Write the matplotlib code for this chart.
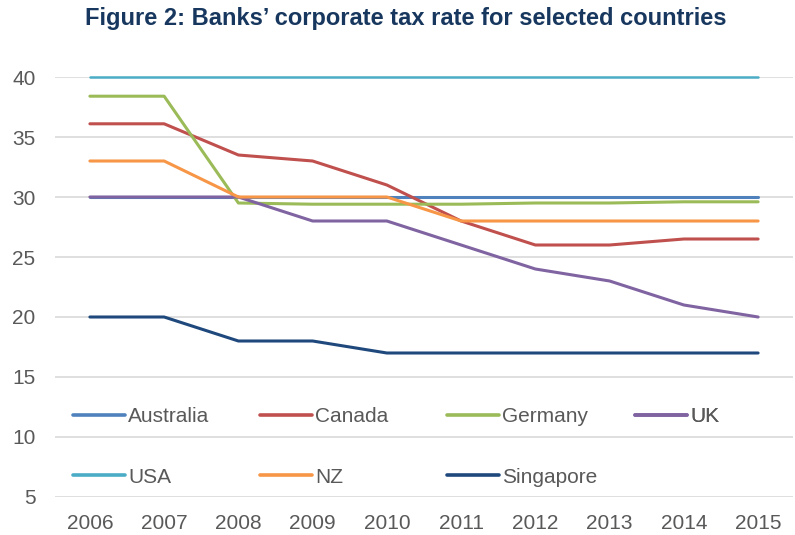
import matplotlib
matplotlib.use("Agg")
import matplotlib.pyplot as plt
import numpy as np

years = ["2006", "2007", "2008", "2009", "2010", "2011", "2012", "2013", "2014", "2015"]
countries = ["Australia", "Canada", "Germany", "UK", "USA", "NZ", "Singapore"]

australia = [30, 30, 30, 30, 30, 30, 30, 30, 30, 30]
canada = [36.1, 36.1, 33.5, 33.0, 31.0, 28.0, 26.0, 26.0, 26.5, 26.5]
germany = [38.4, 38.4, 29.5, 29.4, 29.4, 29.4, 29.5, 29.5, 29.6, 29.6]
uk = [30, 30, 30, 28, 28, 26, 24, 23, 21, 20]
usa = [40, 40, 40, 40, 40, 40, 40, 40, 40, 40]
nz = [33, 33, 30, 30, 30, 28, 28, 28, 28, 28]
singapore = [20, 20, 18, 18, 17, 17, 17, 17, 17, 17]

series = [australia, canada, germany, uk, usa, nz, singapore]
colors = ["#4F81BD", "#C0504D", "#9BBB59", "#8064A2", "#4BACC6", "#F79646", "#1F497D"]

plt.rcParams["font.family"] = ["Liberation Sans", "DejaVu Sans"]

W, H = 795, 535
fig = plt.figure(figsize=(W / 100, H / 100), dpi=100)
ax = fig.add_axes([55 / W, 1 - 497 / H, (793 - 55) / W, (497 - 77) / H])

x = np.arange(len(years))
lines = []
for name, vals, c in zip(countries, series, colors):
    lw = 1.8 if name == "USA" else 2.2
    (ln,) = ax.plot(x, vals, color=c, lw=lw, label=name, clip_on=False,
                    solid_capstyle="round", zorder=3)
    lines.append(ln)

ax.set_xlim(-0.47, len(years) - 1 + 0.47)
ax.set_ylim(5, 40)
ax.set_yticks(np.arange(5, 41, 5))
ax.set_xticks(x)
ax.set_xticklabels(years)
ax.tick_params(axis="both", length=0, labelsize=15, labelcolor="#595959")
ax.tick_params(axis="y", pad=14)
ax.tick_params(axis="x", pad=12)
ax.grid(axis="y", color="#D9D9D9", lw=1.2)
ax.set_axisbelow(True)
for s in ax.spines.values():
    s.set_visible(False)

# Excel-style legend: four equal-width columns inside the plot
col_x = [73, 260, 447, 635]
for k, cx in enumerate(col_x):
    idx = [i for i in (k, k + 4) if i < len(lines)]
    leg = ax.legend([lines[i] for i in idx], [countries[i] for i in idx],
                    loc="upper left", bbox_to_anchor=(cx / W, 1 - 407 / H),
                    bbox_transform=fig.transFigure, frameon=False,
                    fontsize=15, handlelength=2.5, handletextpad=0.15,
                    labelspacing=2.0, borderpad=0, borderaxespad=0,
                    labelcolor="#595959")
    for h in leg.legend_handles:
        h.set_linewidth(2.6)
    ax.add_artist(leg)

fig.text(406 / W, 1 - 18 / H, "Figure 2: Banks’ corporate tax rate for selected countries",
         ha="center", va="center", fontsize=17, fontweight="bold", color="#17375E")

fig.savefig("out.png", dpi=100)
